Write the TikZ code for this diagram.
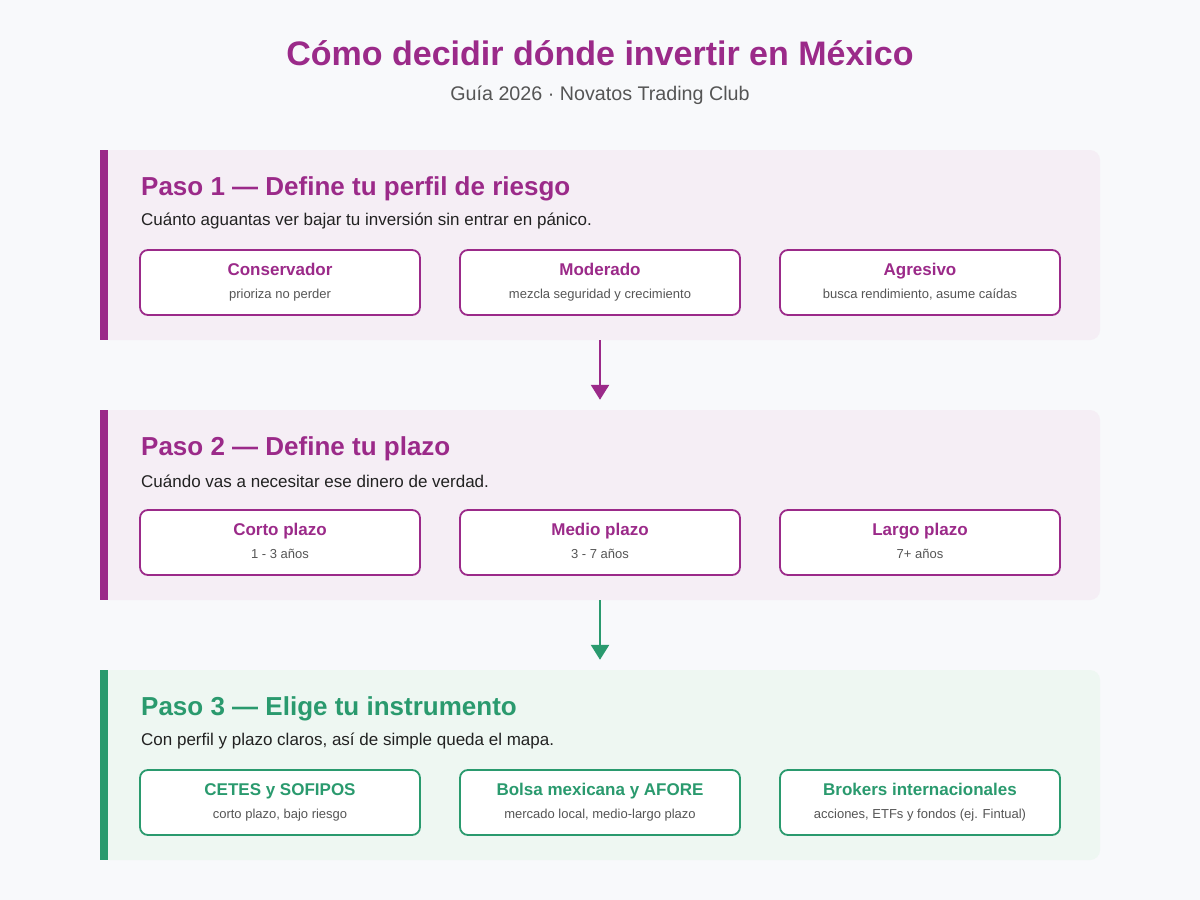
\documentclass[tikz,border=0pt]{standalone}
\usepackage{fontspec}
\setmainfont{Liberation Sans}
\usetikzlibrary{arrows.meta}
\definecolor{morado}{HTML}{9B2A89}
\definecolor{verde}{HTML}{2A9A6E}
\definecolor{fondo}{HTML}{F8F9FB}
\definecolor{fondomorado}{HTML}{F5EEF5}
\definecolor{fondoverde}{HTML}{EEF7F2}
\definecolor{gristexto}{HTML}{555555}
\definecolor{tinta}{HTML}{222222}
\begin{document}
\begin{tikzpicture}[x=1pt,y=-1pt]
		\tikzset{panel/.style = {draw=none,rounded corners=10pt,minimum width=1000pt,minimum height=190pt,inner sep=0pt}}
		\tikzset{opcion/.style = {draw=#1,fill=white,line width=1.8pt,rounded corners=8pt,minimum width=280pt,minimum height=65pt,align=center,inner sep=0pt}}
		\tikzset{paso/.style = {anchor=west,inner sep=0pt,font=\fontsize{26}{30}\selectfont\bfseries}}
		\tikzset{nota/.style = {anchor=west,inner sep=0pt,text=tinta,font=\fontsize{17}{20}\selectfont}}
		\tikzset{flecha/.style = {line width=2.5pt,-{Triangle[width=18pt,length=15pt]},shorten >=10pt}}
		\useasboundingbox[fill=fondo] (0,0) rectangle (1200,900);
		% titulo
		\node[text=morado,font=\fontsize{34}{40}\selectfont\bfseries] (titulo) at (600,53) {Cómo decidir dónde invertir en México};
		\node[text=gristexto,font=\fontsize{19.7}{24}\selectfont] (subtitulo) at (600,95) {Guía 2026 · Novatos Trading Club};
		% paneles
		\node[panel,fill=fondomorado] (paso1) at (600,245) {};
		\node[panel,fill=fondomorado] (paso2) at (600,505) {};
		\node[panel,fill=fondoverde] (paso3) at (600,765) {};
		\fill[morado] (paso1.north west) rectangle ([xshift=8pt]paso1.south west);
		\fill[morado] (paso2.north west) rectangle ([xshift=8pt]paso2.south west);
		\fill[verde] (paso3.north west) rectangle ([xshift=8pt]paso3.south west);
		% paso 1
		\node[paso,text=morado] (t1) at (141,189) {Paso 1 — Define tu perfil de riesgo};
		\node[nota] (d1) at (141,221) {Cuánto aguantas ver bajar tu inversión sin entrar en pánico.};
		\node[opcion=morado] (conservador) at (280,282.5) {{\fontsize{17}{19}\selectfont\strut\bfseries\color{morado}Conservador}\\[5pt]{\fontsize{13}{15}\selectfont\strut\color{gristexto}prioriza no perder}};
		\node[opcion=morado] (moderado) at (600,282.5) {{\fontsize{17}{19}\selectfont\strut\bfseries\color{morado}Moderado}\\[5pt]{\fontsize{13}{15}\selectfont\strut\color{gristexto}mezcla seguridad y crecimiento}};
		\node[opcion=morado] (agresivo) at (920,282.5) {{\fontsize{17}{19}\selectfont\strut\bfseries\color{morado}Agresivo}\\[5pt]{\fontsize{13}{15}\selectfont\strut\color{gristexto}busca rendimiento, asume caídas}};
		% paso 2
		\node[paso,text=morado] (t2) at (141,449) {Paso 2 — Define tu plazo};
		\node[nota] (d2) at (141,481) {Cuándo vas a necesitar ese dinero de verdad.};
		\node[opcion=morado] (corto) at (280,542.5) {{\fontsize{17}{19}\selectfont\strut\bfseries\color{morado}Corto plazo}\\[5pt]{\fontsize{13}{15}\selectfont\strut\color{gristexto}1 - 3 años}};
		\node[opcion=morado] (medio) at (600,542.5) {{\fontsize{17}{19}\selectfont\strut\bfseries\color{morado}Medio plazo}\\[5pt]{\fontsize{13}{15}\selectfont\strut\color{gristexto}3 - 7 años}};
		\node[opcion=morado] (largo) at (920,542.5) {{\fontsize{17}{19}\selectfont\strut\bfseries\color{morado}Largo plazo}\\[5pt]{\fontsize{13}{15}\selectfont\strut\color{gristexto}7+ años}};
		% paso 3
		\node[paso,text=verde] (t3) at (141,709) {Paso 3 — Elige tu instrumento};
		\node[nota] (d3) at (141,741) {Con perfil y plazo claros, así de simple queda el mapa.};
		\node[opcion=verde] (cetes) at (280,802.5) {{\fontsize{17}{19}\selectfont\strut\bfseries\color{verde}CETES y SOFIPOS}\\[5pt]{\fontsize{13}{15}\selectfont\strut\color{gristexto}corto plazo, bajo riesgo}};
		\node[opcion=verde] (bolsa) at (600,802.5) {{\fontsize{17}{19}\selectfont\strut\bfseries\color{verde}Bolsa mexicana y AFORE}\\[5pt]{\fontsize{13}{15}\selectfont\strut\color{gristexto}mercado local, medio-largo plazo}};
		\node[opcion=verde] (brokers) at (920,802.5) {{\fontsize{17}{19}\selectfont\strut\bfseries\color{verde}Brokers internacionales}\\[5pt]{\fontsize{13}{15}\selectfont\strut\color{gristexto}acciones, ETFs y fondos (ej. Fintual)}};
		% flechas
		\draw[flecha,morado] (paso1.south) -- (paso2.north);
		\draw[flecha,verde] (paso2.south) -- (paso3.north);
	\end{tikzpicture}
\end{document}
